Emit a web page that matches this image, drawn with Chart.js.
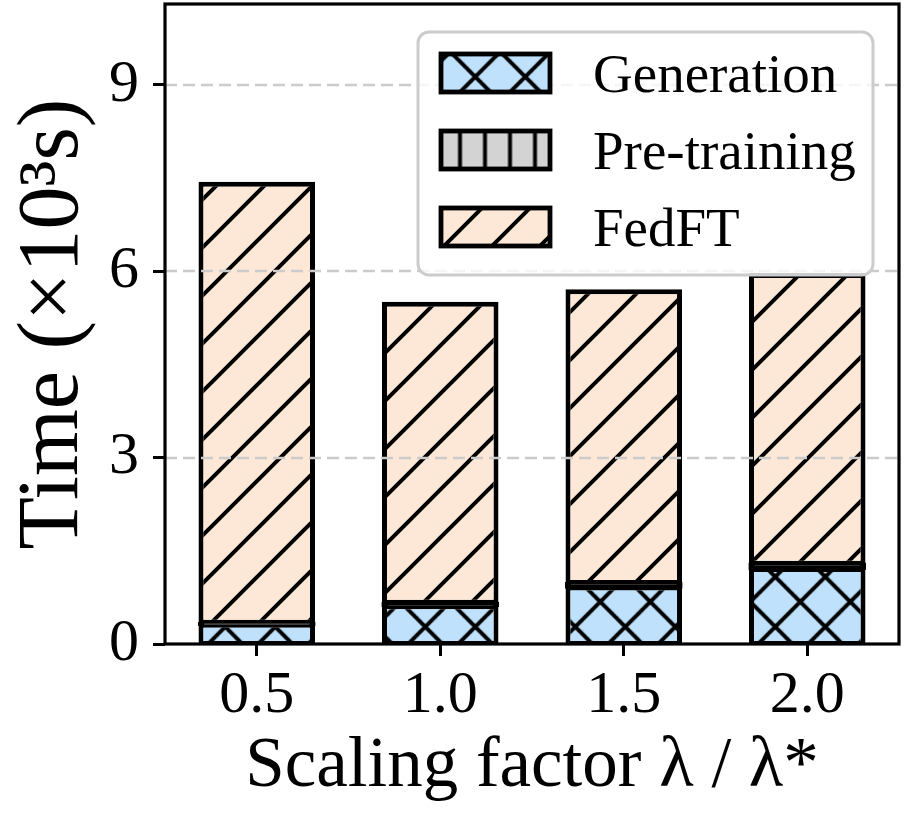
<!DOCTYPE html>
<html><head><meta charset="utf-8">
<script src="https://cdn.jsdelivr.net/npm/chart.js@4/dist/chart.umd.min.js"></script>
<style>html,body{margin:0;padding:0;background:#fff}#wrap{width:906px;height:816px}</style>
</head><body><div id="wrap"><canvas id="c" width="906" height="816"></canvas></div>
<script>
const categories = ['0.5', '1.0', '1.5', '2.0'];
const generation = [0.30, 0.60, 0.90, 1.20];
const pretraining = [0.05, 0.07, 0.09, 0.10];
const fedft = [7.09, 4.84, 4.72, 4.67];
const yTicks = [0, 3, 6, 9];
const seriesNames = ['Generation', 'Pre-training', 'FedFT'];
const xTitle = 'Scaling factor λ / λ*';
const yTitle = 'Time (×10³s)';

const FONT = "'Liberation Serif', 'Times New Roman', serif";

function makePattern(kind, bg, P, tx, ty) {
  const c = document.createElement('canvas');
  c.width = P; c.height = P;
  const g = c.getContext('2d');
  g.fillStyle = bg; g.fillRect(0, 0, P, P);
  g.strokeStyle = '#000'; g.lineWidth = 4;
  g.beginPath();
  if (kind.includes('/')) {
    for (const m of [0, P, 2 * P]) { g.moveTo(m + P, -P); g.lineTo(-P, m + P); }
  }
  if (kind.includes('\\')) {
    for (const m of [-P, 0, P]) { g.moveTo(m - P, -P); g.lineTo(m + 2 * P, 2 * P); }
  }
  if (kind.includes('|')) {
    g.moveTo(P / 2, -1); g.lineTo(P / 2, P + 1);
  }
  g.stroke();
  const ctx = document.getElementById('c').getContext('2d');
  const pat = ctx.createPattern(c, 'repeat');
  pat.setTransform(new DOMMatrix([1, 0, 0, 1, tx, ty]));
  return pat;
}

const patGen = makePattern('/\\', '#bfe1fb', 50, 0.25, 1.75);
const patPre = makePattern('|', '#d3d3d3', 25, -2.5, 0);
const patFed = makePattern('/', '#fde8d8', 48, 18, 0);
// legend swatches (the thin pre-training band is fully covered by its black edges in the bars)
const legendFills = [patGen, patPre, patFed];

const overlay = {
  id: 'overlay',
  afterDatasetsDraw(chart) {
    const ctx = chart.ctx, a = chart.chartArea, ys = chart.scales.y;
    ctx.save();
    // dashed grid lines over bars
    ctx.strokeStyle = '#cbcbcb'; ctx.lineWidth = 2.5; ctx.setLineDash([12, 6]);
    yTicks.forEach(v => {
      if (v === 0) return;
      const y = Math.round(ys.getPixelForValue(v));
      ctx.beginPath(); ctx.moveTo(a.left, y); ctx.lineTo(a.right, y); ctx.stroke();
    });
    ctx.setLineDash([]);
    // frame
    ctx.strokeStyle = '#000'; ctx.lineWidth = 3.2;
    ctx.strokeRect(a.left, a.top, a.right - a.left, a.bottom - a.top);
    // legend
    const lx = a.right - 481, ly = a.top + 28, lw = 455, lh = 243;
    ctx.beginPath(); ctx.roundRect(lx, ly, lw, lh, 11);
    ctx.fillStyle = 'rgba(255,255,255,0.8)'; ctx.fill();
    ctx.strokeStyle = '#cccccc'; ctx.lineWidth = 3; ctx.stroke();
    chart.data.datasets.forEach((ds, i) => {
      const sx = lx + 23, sy = ly + 22 + 77 * i;
      ctx.fillStyle = legendFills[i];
      ctx.fillRect(sx, sy, 109, 38);
      ctx.strokeStyle = '#000'; ctx.lineWidth = 4.8;
      ctx.strokeRect(sx, sy, 109, 38);
      ctx.fillStyle = '#000';
      ctx.font = '55px ' + FONT;
      ctx.textBaseline = 'alphabetic';
      ctx.fillText(ds.label, lx + 175, ly + 60 + 77 * i);
    });
    ctx.restore();
  }
};

new Chart(document.getElementById('c'), {
  type: 'bar',
  data: {
    labels: categories,
    datasets: [
      { label: seriesNames[0], data: generation, backgroundColor: patGen, borderColor: '#000',
        borderWidth: { left: 5, right: 5, top: 2.5, bottom: 2.5 }, borderSkipped: false, stack: 's' },
      { label: seriesNames[1], data: pretraining, backgroundColor: '#000', borderColor: '#000',
        borderWidth: { left: 5, right: 5, top: 8, bottom: 8 }, borderSkipped: false, stack: 's', inflateAmount: 0.6 },
      { label: seriesNames[2], data: fedft, backgroundColor: patFed, borderColor: '#000',
        borderWidth: { left: 5, right: 5, top: 5, bottom: 2.5 }, borderSkipped: false, stack: 's' }
    ]
  },
  options: {
    responsive: false,
    animation: false,
    devicePixelRatio: 1,
    layout: { padding: { top: 4, right: 7, left: 0, bottom: 0 } },
    datasets: { bar: { barPercentage: 0.635, categoryPercentage: 1 } },
    plugins: { legend: { display: false }, tooltip: { enabled: false } },
    scales: {
      x: {
        stacked: true,
        offset: true,
        grid: { display: true, offset: false, drawOnChartArea: false, drawTicks: true, tickLength: 12, tickWidth: 3, tickColor: '#000', color: '#000' },
        border: { display: false },
        ticks: { color: '#000', font: { family: FONT, size: 60 }, padding: 4 },
        title: { display: true, text: xTitle, color: '#000', font: { family: FONT, size: 71 }, padding: { top: 0, bottom: 6 } },
        afterFit(s) { s.height = 172; s.paddingLeft = 0; s.paddingRight = 0; }
      },
      y: {
        stacked: true,
        min: 0, max: 10.3,
        afterBuildTicks(s) { s.ticks = yTicks.map(v => ({ value: v })); },
        grid: { display: true, drawOnChartArea: false, drawTicks: true, tickLength: 12, tickWidth: 3, tickColor: '#000', color: '#000' },
        border: { display: false },
        ticks: { color: '#000', font: { family: FONT, size: 60 }, padding: 14 },
        title: { display: true, text: yTitle, color: '#000', font: { family: FONT, size: 86 }, padding: { top: 3, bottom: 0 } },
        afterFit(s) { s.width = 165; s.paddingTop = 0; s.paddingBottom = 0; }
      }
    }
  },
  plugins: [overlay]
});
</script>
</body></html>
